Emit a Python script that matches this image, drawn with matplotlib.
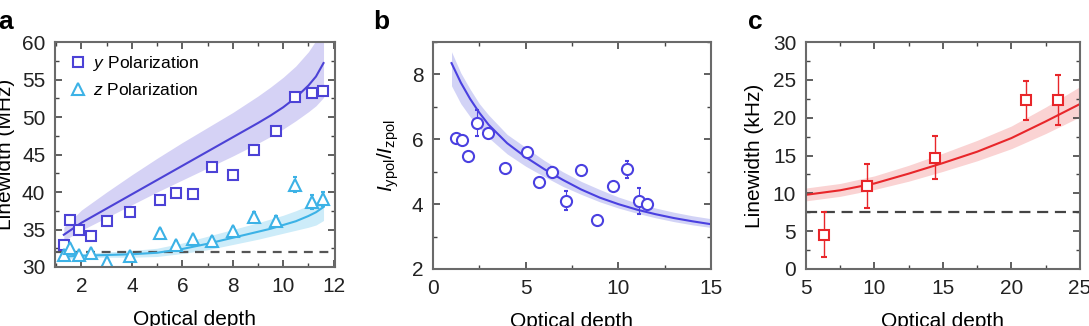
import matplotlib
matplotlib.use("Agg")
import matplotlib.pyplot as plt
from matplotlib.ticker import MultipleLocator

plt.rcParams["font.family"] = ["Liberation Sans", "DejaVu Sans"]
plt.rcParams["mathtext.fontset"] = "custom"
plt.rcParams["mathtext.rm"] = "Liberation Sans"
plt.rcParams["mathtext.it"] = "Liberation Sans:italic"

# ---- panel a: linewidth vs optical depth (MHz)
od_a = [1.31, 1.56, 1.89, 2.36, 3.02, 3.92, 5.13, 5.73, 6.42, 7.18, 8.01, 8.85, 9.70, 10.48, 11.14, 11.58]
lw_y = [33.0, 36.3, 34.9, 34.1, 36.2, 37.3, 39.0, 39.9, 39.7, 43.3, 42.3, 45.6, 48.1, 52.7, 53.2, 53.5]
err_y = [0.2, 0.2, 0.2, 0.2, 0.2, 0.2, 0.2, 0.2, 0.2, 0.3, 0.2, 0.2, 0.2, 0.3, 0.4, 0.7]
lw_z = [31.6, 32.5, 31.6, 31.9, 30.6, 31.5, 34.5, 33.0, 33.7, 33.5, 34.8, 36.7, 36.2, 41.0, 38.7, 39.1]
err_z = [0.5, 0.4, 0.4, 0.4, 0.4, 0.4, 0.6, 0.5, 0.5, 0.5, 0.5, 0.6, 0.6, 1.0, 0.9, 0.9]

fit_x_a = [1.3, 2, 3, 4, 5, 6, 7, 8, 9, 9.5, 10, 10.5, 11, 11.3, 11.6]
fit_y = [34.3, 35.9, 37.8, 39.7, 41.6, 43.5, 45.4, 47.3, 49.2, 50.2, 51.3, 52.6, 54.2, 55.4, 57.2]
band_y_hi = [35.3, 37.6, 40.0, 42.3, 44.5, 46.6, 48.6, 50.6, 52.8, 54.0, 55.3, 56.8, 58.7, 60.2, 62.5]
band_y_lo = [33.5, 34.9, 36.6, 38.3, 40.0, 41.6, 43.2, 44.8, 46.5, 47.4, 48.4, 49.5, 50.7, 51.5, 52.6]
fit_z = [31.4, 31.5, 31.6, 31.7, 31.9, 32.4, 33.1, 33.9, 34.7, 35.1, 35.6, 36.1, 36.8, 37.3, 38.0]
band_z_hi = [31.7, 31.8, 32.0, 32.2, 32.5, 33.2, 34.1, 35.0, 35.9, 36.4, 36.9, 37.5, 38.2, 38.7, 39.4]
band_z_lo = [31.1, 31.2, 31.3, 31.3, 31.4, 31.8, 32.3, 33.0, 33.7, 34.1, 34.5, 34.9, 35.3, 35.6, 36.2]
base_a = 32.0

# ---- panel b: intensity ratio
od_b = [1.24, 1.55, 1.91, 2.36, 2.98, 3.88, 5.09, 5.72, 6.44, 7.15, 7.97, 8.86, 9.69, 10.48, 11.12, 11.57]
ratio = [6.04, 5.97, 5.48, 6.50, 6.18, 5.12, 5.61, 4.69, 4.98, 4.11, 5.05, 3.51, 4.56, 5.08, 4.10, 4.01]
err_ratio = [0.08, 0.1, 0.08, 0.4, 0.1, 0.06, 0.12, 0.12, 0.15, 0.28, 0.1, 0.08, 0.08, 0.26, 0.4, 0.08]
fit_x_b = [1.0, 1.5, 2, 2.5, 3, 4, 5, 6, 7, 8, 9, 10, 11, 12, 13, 14, 15]
fit_b = [8.35, 7.75, 7.25, 6.82, 6.45, 5.88, 5.45, 5.08, 4.75, 4.45, 4.2, 4.0, 3.83, 3.69, 3.57, 3.47, 3.38]
band_b_hi = [8.7, 8.05, 7.55, 7.1, 6.75, 6.15, 5.75, 5.35, 5.0, 4.7, 4.45, 4.22, 4.03, 3.88, 3.75, 3.64, 3.55]
band_b_lo = [7.65, 7.1, 6.7, 6.35, 6.05, 5.55, 5.17, 4.85, 4.55, 4.3, 4.07, 3.88, 3.72, 3.58, 3.46, 3.36, 3.28]

# ---- panel c: linewidth (kHz)
od_c = [6.31, 9.43, 14.42, 21.1, 23.37]
lw_c = [4.55, 10.93, 14.73, 22.3, 22.3]
err_c = [3.0, 2.9, 2.9, 2.6, 3.3]
fit_x_c = [5, 7.5, 10, 12.5, 15, 17.5, 20, 22.5, 25]
fit_c = [9.8, 10.4, 11.3, 12.6, 14.0, 15.5, 17.3, 19.5, 21.8]
band_c_hi = [10.7, 11.3, 12.3, 13.7, 15.3, 17.0, 18.9, 21.4, 24.1]
band_c_lo = [9.0, 9.6, 10.5, 11.6, 12.9, 14.3, 15.9, 17.9, 20.1]
base_c = 7.5

c_y = "#4c42d6"
c_z = "#3cb2e6"
c_b = "#4a40e0"
c_r = "#e8262a"
fs = 15


def style(ax, xmin, ymin):
    for s in ax.spines.values():
        s.set_color("#6a6a6a")
        s.set_linewidth(1.5)
    ax.xaxis.set_minor_locator(MultipleLocator(xmin))
    ax.yaxis.set_minor_locator(MultipleLocator(ymin))
    ax.tick_params(which="both", direction="in", top=True, right=True,
                   color="#444444", labelsize=fs, labelcolor="#222222", pad=7)
    ax.tick_params(which="major", length=5, width=1.2)
    ax.tick_params(which="minor", length=3, width=1.0)


fig = plt.figure(figsize=(10.89, 3.26), dpi=100)
ax1 = fig.add_axes([0.0505, 0.181, 0.257, 0.690])
ax2 = fig.add_axes([0.3976, 0.175, 0.2553, 0.696])
ax3 = fig.add_axes([0.740, 0.175, 0.2516, 0.696])

# a
ax1.fill_between(fit_x_a, band_y_lo, band_y_hi, color="#d5d2f5", lw=0)
ax1.fill_between(fit_x_a, band_z_lo, band_z_hi, color="#cdecf9", lw=0)
ax1.axhline(base_a, color="#555555", ls=(0, (4, 3)), lw=1.6)
ax1.plot(fit_x_a, fit_y, color=c_y, lw=1.5)
ax1.plot(fit_x_a, fit_z, color=c_z, lw=1.5)
ax1.errorbar(od_a, lw_y, yerr=err_y, fmt="s", ms=7.5, mfc="white", mec=c_y, mew=1.5,
             ecolor=c_y, elinewidth=0.8, capsize=1.5, label=r"$y$ Polarization")
ax1.errorbar(od_a, lw_z, yerr=err_z, fmt="^", ms=8, mfc="white", mec=c_z, mew=1.5,
             ecolor=c_z, elinewidth=0.8, capsize=1.5, label=r"$z$ Polarization")
ax1.set_xlim(0.95, 12.05)
ax1.set_ylim(30, 60)
ax1.set_xticks([2, 4, 6, 8, 10, 12])
ax1.set_yticks([30, 35, 40, 45, 50, 55, 60])
style(ax1, 1, 2.5)
ax1.set_xlabel("Optical depth", fontsize=fs, labelpad=10)
ax1.set_ylabel("Linewidth (MHz)", fontsize=fs, labelpad=5)
h, l = ax1.get_legend_handles_labels()
h = [x[0] for x in h]
ax1.legend(h, l, loc="upper left", frameon=False, fontsize=12.5,
           handletextpad=0.3, handlelength=1.2, borderaxespad=0.3, labelspacing=0.5)

# b
ax2.fill_between(fit_x_b, band_b_lo, band_b_hi, color="#d2d3f6", lw=0)
ax2.plot(fit_x_b, fit_b, color=c_b, lw=1.5)
ax2.errorbar(od_b, ratio, yerr=err_ratio, fmt="o", ms=8, mfc="white", mec=c_b, mew=1.5,
             ecolor=c_b, elinewidth=0.8, capsize=1.5)
ax2.set_xlim(0, 15)
ax2.set_ylim(2, 9)
ax2.set_xticks([0, 5, 10, 15])
ax2.set_yticks([2, 4, 6, 8])
style(ax2, 2.5, 1)
ax2.set_xlabel("Optical depth", fontsize=fs, labelpad=10)
ax2.set_ylabel(r"$I_{\mathrm{ypol}}/I_{\mathrm{zpol}}$", fontsize=fs, labelpad=8)

# c
ax3.fill_between(fit_x_c, band_c_lo, band_c_hi, color="#fad3d3", lw=0)
ax3.axhline(base_c, color="#444444", ls=(0, (5, 3)), lw=1.6)
ax3.plot(fit_x_c, fit_c, color=c_r, lw=1.5)
ax3.errorbar(od_c, lw_c, yerr=err_c, fmt="s", ms=6.5, mfc="white", mec=c_r, mew=1.5,
             ecolor=c_r, elinewidth=1.0, capsize=2)
ax3.set_xlim(5, 25)
ax3.set_ylim(0, 30)
ax3.set_xticks([5, 10, 15, 20, 25])
ax3.set_yticks([0, 5, 10, 15, 20, 25, 30])
style(ax3, 2.5, 2.5)
ax3.set_xlabel("Optical depth", fontsize=fs, labelpad=10)
ax3.set_ylabel("Linewidth (kHz)", fontsize=fs, labelpad=6)

for x, t in [(-0.002, "a"), (0.343, "b"), (0.687, "c")]:
    fig.text(x, 0.91, t, fontsize=19, fontweight="bold")

fig.savefig("out.png", dpi=100)
